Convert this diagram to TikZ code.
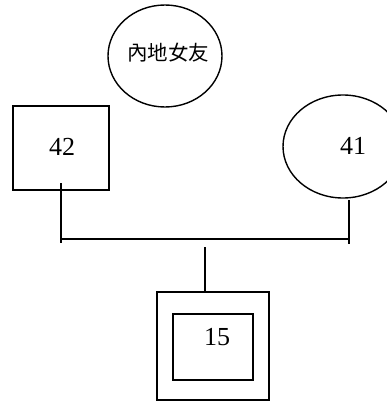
\documentclass[tikz,border=0pt]{standalone}
\usepackage{fontspec}
\setmainfont{Liberation Serif}
\newfontfamily\cjk{Noto Sans CJK TC}
\usetikzlibrary{shapes.geometric}
\begin{document}
\begin{tikzpicture}[x=1pt,y=-1pt,line width=1.4pt,
  box/.style={draw,rectangle,inner sep=0pt,outer sep=0pt},
  oval/.style={draw,ellipse,inner sep=0pt,outer sep=0pt},
  lbl/.style={font=\fontsize{26}{28}\selectfont,inner sep=0pt},
  link/.style={draw,line width=1.4pt}]
\useasboundingbox (0,0) rectangle (387,401);
\begin{scope}
\clip (0,0) rectangle (387,401);
\node[oval,minimum width=114,minimum height=102] (gf) at (165,56) {};
\node[font=\cjk\fontsize{20.5}{22}\selectfont,inner sep=0pt] (gft) at (168,53) {內地女友};
\node[box,minimum width=96,minimum height=84] (n42) at (61,148) {};
\node[lbl] (t42) at (62,147) {42};
\node[oval,minimum width=120,minimum height=103] (n41) at (343,146.5) {};
\node[lbl] (t41) at (353,146) {41};
\node[box,minimum width=112,minimum height=108] (n15o) at (213,346) {};
\node[box,minimum width=80,minimum height=66] (n15) at (213,347) {};
\node[lbl] (t15) at (217,337) {15};
\coordinate (a42) at (61,183);
\coordinate (b42) at (61,243);
\coordinate (a41) at (349,200);
\coordinate (b41) at (349,244);
\coordinate (h1) at (61,239);
\coordinate (h2) at (349,239);
\coordinate (c1) at (205,247);
\draw[link] (a42) -- (b42);
\draw[link] (a41) -- (b41);
\draw[link] (h1) -- (h2);
\draw[link] (c1) -- (c1 |- n15o.north);
\end{scope}
\end{tikzpicture}
\end{document}
